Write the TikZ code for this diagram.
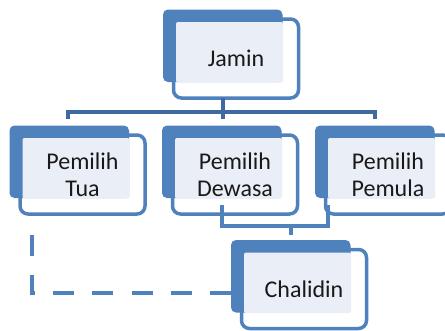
\documentclass[tikz,border=0pt]{standalone}
\usepackage{fontspec}
\setmainfont{Carlito}
\usetikzlibrary{calc}
\definecolor{bfill}{RGB}{79,129,189}
\definecolor{lfill}{RGB}{234,239,247}
\definecolor{treec}{RGB}{62,106,160}
\tikzset{
  outl/.style={draw=bfill, line width=3.5pt, fill=white, rounded corners=8pt,
    minimum width=125pt, minimum height=79pt, inner sep=0pt, outer sep=0pt},
  backbox/.style={fill=bfill, rounded corners=5pt},
  lightbox/.style={fill=lfill, rounded corners=2pt},
  lbl/.style={font=\fontsize{24pt}{27pt}\selectfont, align=center, text=black!90, inner sep=0pt},
  tree/.style={draw=treec, line width=3.5pt},
  tree2/.style={draw=bfill, line width=4pt},
  dline/.style={draw=bfill, line width=4pt, dash pattern=on 21pt off 18.3pt, dash phase=36pt}
}
\newcommand\orgbox[4]{%
  \node[outl] (#1o) at (#2+62.5,#3+39.5) {};
  \fill[backbox] ($(#1o.north west)+(-10.5,-9.5)$) rectangle ($(#1o.north west)+(109,63)$);
  \fill[lightbox] ($(#1o.north west)+(2.5,3)$) rectangle ($(#1o.north west)+(109.5,63.5)$);
  \node[lbl] (#1) at (#1o.center) {#4};
}
\begin{document}
\begin{tikzpicture}[x=1pt,y=-1pt]
\useasboundingbox (0,0) rectangle (445,330);
\clip (0,0) rectangle (445,330);
\fill[white] (0,0) rectangle (445,330);
% connectors (behind)
\coordinate (busL) at (68,112);
\coordinate (busM) at (223,112);
\coordinate (busR) at (375,112);
\orgbox{jamin}{173.5}{19}{Jamin}
\draw[tree] ([xshift=-13pt]jamino.south) -- ($(busM)+(0,7)$);
\draw[tree] ($(busL)+(0,7)$) -- (busL) -- (busR) -- ++(0,7);
\orgbox{tua}{20}{135}{Pemilih\\Tua}
\orgbox{dewasa}{172.5}{135}{Pemilih\\Dewasa}
\orgbox{pemula}{325.5}{135}{Pemilih\\Pemula}
\coordinate (brL) at (222,205);
\coordinate (brR) at (328,205);
\coordinate (brM) at (291,226);
\draw[tree2] (brL) |- (brM) -| (brR);
\draw[tree2] (brM) -- ++(0,9);
\orgbox{chalidin}{241.5}{249.5}{Chalidin}
\coordinate (dstart) at (32,232);
\coordinate (dend) at (231,293);
\draw[dline] (dstart) |- (dend);
\end{tikzpicture}
\end{document}
